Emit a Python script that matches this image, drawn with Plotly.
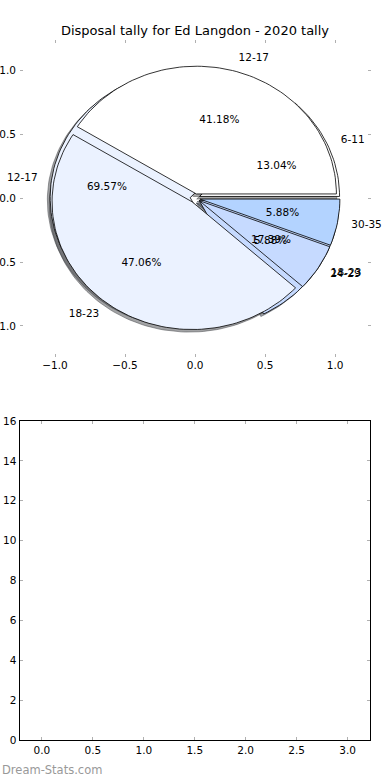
import numpy as np
import plotly.graph_objects as go

# ---- data ----
title_text = "Disposal tally for Ed Langdon - 2020 tally"
ages_a = ["6-11", "12-17", "18-23"]
counts_a = [3, 16, 4]
ages_b = ["12-17", "18-23", "24-29", "30-35"]
counts_b = [7, 8, 1, 1]
palette = ["#FFFFFF", "#EBF2FF", "#C6DAFF", "#B3D3FF"]
xticks_top = [-1.0, -0.5, 0.0, 0.5, 1.0]
yticks_top = [-1.0, -0.5, 0.0, 0.5, 1.0]
xticks_bottom = [0.0, 0.5, 1.0, 1.5, 2.0, 2.5, 3.0]
yticks_bottom = [0, 2, 4, 6, 8, 10, 12, 14, 16]
watermark = "Dream-Stats.com"

EXPLODE = 0.035
FONT = "DejaVu Sans"
FS = 10.5

fig = go.Figure()


def wedges(counts):
    total = float(sum(counts))
    out = []
    start = 0.0
    for c in counts:
        frac = c / total
        t1, t2 = start * 2 * np.pi, (start + frac) * 2 * np.pi
        mid = (t1 + t2) / 2
        cx, cy = EXPLODE * np.cos(mid), EXPLODE * np.sin(mid)
        th = np.linspace(t1, t2, max(8, int(200 * frac)))
        xs = np.concatenate([[cx], cx + np.cos(th), [cx]])
        ys = np.concatenate([[cy], cy + np.sin(th), [cy]])
        out.append((xs, ys, cx, cy, mid, frac))
        start += frac
    return out


def hex_to_rgb(h):
    h = h.lstrip("#")
    return tuple(int(h[i:i + 2], 16) for i in (0, 2, 4))


pies = [(ages_a, counts_a), (ages_b, counts_b)]
geo = [wedges(c) for _, c in pies]

# shadows (drawn beneath all wedges)
for (labels, counts), ws in zip(pies, geo):
    for i, (xs, ys, cx, cy, mid, frac) in enumerate(ws):
        r, g, b = hex_to_rgb(palette[i])
        col = f"rgba({int(r*0.3)},{int(g*0.3)},{int(b*0.3)},0.5)"
        fig.add_trace(go.Scatter(x=xs - 0.02, y=ys - 0.02, mode="lines", fill="toself",
                                 fillcolor=col, line=dict(color=col, width=1),
                                 hoverinfo="skip", showlegend=False, xaxis="x", yaxis="y"))

# wedges
for (labels, counts), ws in zip(pies, geo):
    for i, (xs, ys, cx, cy, mid, frac) in enumerate(ws):
        fig.add_trace(go.Scatter(x=xs, y=ys, mode="lines", fill="toself",
                                 fillcolor=palette[i], line=dict(color="black", width=0.8),
                                 hoverinfo="skip", showlegend=False, xaxis="x", yaxis="y"))

# texts
for (labels, counts), ws in zip(pies, geo):
    lx, ly, lpos, px, py, pt = [], [], [], [], [], []
    for i, (xs, ys, cx, cy, mid, frac) in enumerate(ws):
        x1 = cx + 1.1 * np.cos(mid)
        y1 = cy + 1.1 * np.sin(mid)
        lx.append(x1); ly.append(y1)
        lpos.append("middle right" if x1 > 0 else "middle left")
        px.append(cx + 0.6 * np.cos(mid)); py.append(cy + 0.6 * np.sin(mid))
        pt.append(f"{frac*100:.2f}%")
    fig.add_trace(go.Scatter(x=lx, y=ly, mode="text", text=labels, textposition=lpos,
                             textfont=dict(family=FONT, size=FS, color="black"), cliponaxis=False,
                             hoverinfo="skip", showlegend=False, xaxis="x", yaxis="y"))
    fig.add_trace(go.Scatter(x=px, y=py, mode="text", text=pt, textposition="middle center",
                             textfont=dict(family=FONT, size=FS, color="black"), cliponaxis=False,
                             hoverinfo="skip", showlegend=False, xaxis="x", yaxis="y"))

# empty bottom plot
fig.add_trace(go.Scatter(x=[], y=[], mode="markers", showlegend=False, xaxis="x2", yaxis="y2"))

tick_common = dict(ticks="inside", ticklen=3, tickwidth=1, tickcolor="#b0b0b0",
                   showgrid=False, zeroline=False, automargin=False,
                   tickfont=dict(family=FONT, size=FS, color="black"))

fig.update_layout(
    width=390, height=780,
    margin=dict(l=0, r=0, t=0, b=0),
    paper_bgcolor="white", plot_bgcolor="white",
    font=dict(family=FONT, size=FS, color="black"),
    title=dict(text=title_text, x=0.5, xanchor="center", y=1 - 30 / 780, yanchor="middle",
               font=dict(family=FONT, size=13, color="black")),
    xaxis=dict(domain=[20 / 390, 370.5 / 390], range=[-1.25, 1.253], anchor="y",
               tickvals=xticks_top, ticktext=[f"{v:.1f}".replace("-", "\u2212") for v in xticks_top],
               showline=False, mirror="ticks", **tick_common),
    yaxis=dict(domain=[1 - 357 / 780, 1 - 40 / 780], range=[-1.243, 1.239], anchor="x",
               tickvals=yticks_top, ticktext=[f"{v:.1f}".replace("-", "\u2212") for v in yticks_top],
               showline=False, mirror="ticks", ticklabelstandoff=3, **tick_common),
    xaxis2=dict(domain=[19.5 / 390, 370 / 390], range=[-0.22, 3.22], anchor="y2",
                tickvals=xticks_bottom, ticktext=[f"{v:.1f}" for v in xticks_bottom],
                showline=True, linecolor="black", linewidth=1, mirror="ticks", **tick_common),
    yaxis2=dict(domain=[1 - 740 / 780, 1 - 421 / 780], range=[0, 16], anchor="x2",
                tickvals=yticks_bottom,
                showline=True, linecolor="black", linewidth=1, mirror="ticks", **tick_common),
    annotations=[dict(text=watermark, x=0, y=1 - 770 / 780, xref="paper", yref="paper",
                      xanchor="left", yanchor="middle", showarrow=False,
                      font=dict(family=FONT, size=11.5, color="#999999"))],
)

fig.write_html("out.html", config={"displayModeBar": False},
               post_script="document.body.style.margin='0';document.body.style.overflow='hidden';")
